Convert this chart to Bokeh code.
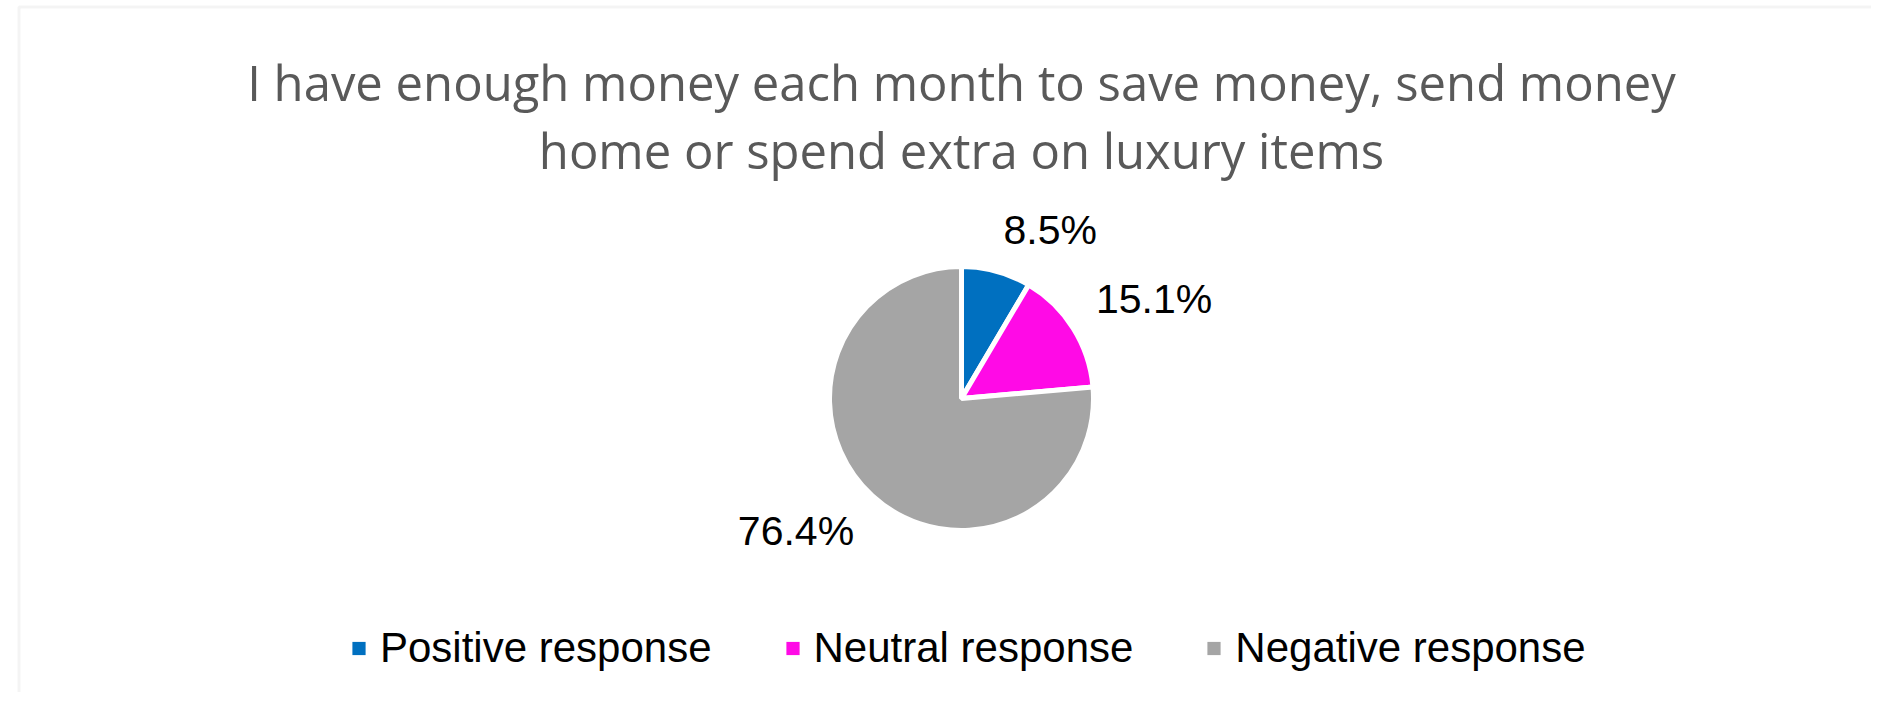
import math
from bokeh.plotting import figure
from bokeh.models import Range1d, Label, Legend, LegendItem, BoxAnnotation
from bokeh.core.properties import value
from bokeh.embed import file_html
from bokeh.resources import INLINE

# ---- data ----
title_lines = ["I have enough money each month to save money, send money",
               "home or spend extra on luxury items"]
categories = ["Positive response", "Neutral response", "Negative response"]
shares = [8.5, 15.1, 76.4]
colors = ["#0070C0", "#FF0AE6", "#A5A5A5"]

# ---- layout ----
W, H = 1871, 692
CX, CY = 961, 294          # pie centre (px, y up)
R = 132                    # pie radius (px)
LABEL_GAP = 27             # distance of labels from the pie edge
HALF_TEXT = 15

p = figure(width=W, height=H, x_range=Range1d(0, W), y_range=Range1d(0, H),
           output_backend="svg", toolbar_location=None, min_border=0,
           x_axis_type=None, y_axis_type=None, background_fill_color="white",
           border_fill_color="white")
p.grid.visible = False
p.outline_line_color = None

# chart frame (extends beyond the page to the right / bottom)
p.add_layout(BoxAnnotation(left=18.5, right=W + 60, bottom=-60, top=H - 6.5,
                           fill_alpha=0, line_color="#d9d9d9", line_width=3))

# title
for i, line in enumerate(title_lines):
    p.add_layout(Label(x=CX, y=611 - 68 * i, text=line, text_align="center",
                       text_baseline="alphabetic", text_font="Open Sans",
                       text_font_size="49px", text_color="#595959"))

# pie
total = sum(shares)
starts, ends, mids = [], [], []
cum = 0.0
for s in shares:
    a0 = cum / total * 2 * math.pi
    cum += s
    a1 = cum / total * 2 * math.pi
    starts.append(math.pi / 2 - a1)
    ends.append(math.pi / 2 - a0)
    mids.append((a0 + a1) / 2)

p.wedge(x=[CX] * len(shares), y=[CY] * len(shares), radius=R,
        start_angle=starts, end_angle=ends, fill_color=colors,
        line_color="white", line_width=5)

# data labels
for s, m in zip(shares, mids):
    ux, uy = math.sin(m), math.cos(m)
    lx = CX + (R + LABEL_GAP) * ux
    ly = CY + (R + LABEL_GAP) * uy + (HALF_TEXT if uy > 0 else -HALF_TEXT)
    p.text(x=[lx], y=[ly], text=[f"{s:.1f}%"],
           text_align="left" if ux > 0 else "right", text_baseline="middle",
           text_font=value("Liberation Sans"), text_font_size="41px",
           text_color="#000000")

# legend (dummy square markers)
items = []
for cat, col in zip(categories, colors):
    r = p.scatter(x=[float("nan")], y=[float("nan")], marker="square",
                  fill_color=col, line_color=None, size=13)
    items.append(LegendItem(label=cat, renderers=[r]))
legend = Legend(items=items, orientation="horizontal", location=(342, 19),
                glyph_width=33, glyph_height=50, label_height=50,
                label_standoff=5, spacing=64, padding=0, margin=0,
                border_line_color=None, background_fill_alpha=0,
                label_text_font="Liberation Sans", label_text_font_size="42px",
                label_text_color="#000000", label_text_baseline="middle")
p.add_layout(legend, "center")

open("out.html", "w").write(file_html(p, INLINE))
